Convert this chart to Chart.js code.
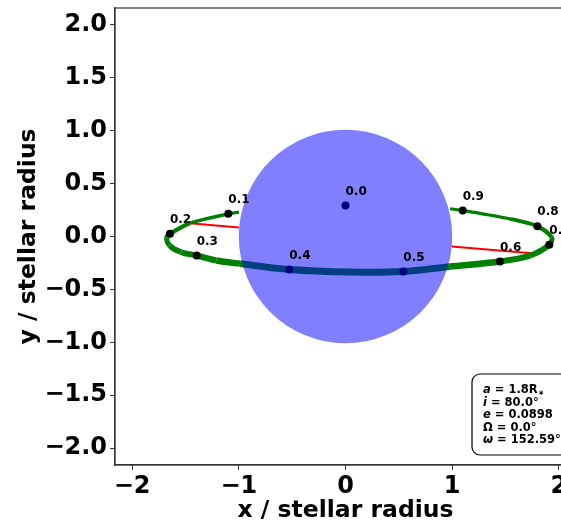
<!DOCTYPE html>
<html>
<head>
<meta charset="utf-8">
<script src="https://cdn.jsdelivr.net/npm/chart.js@4.4.1/dist/chart.umd.min.js"></script>
<style>
  html, body { margin: 0; padding: 0; overflow: hidden; background: #fff; }
  #wrap { width: 561px; height: 524px; overflow: hidden; }
</style>
</head>
<body>
<div id="wrap"><canvas id="orbitChart" width="600" height="524"></canvas></div>
<script>
// star (stellar radius units)
const starX = [0];
const starY = [0];
const starR = [1];

// orbit outline (visible part, star covers the back)
const orbitX = [0.979, 1.098, 1.542, 1.798, 1.932, 1.910, 1.729, 1.448, 0.979, 0.542, 0.042, -0.527, -0.989, -1.212, -1.395, -1.540, -1.648, -1.676, -1.645, -1.457, -1.098, -0.998];
const orbitY = [0.262, 0.246, 0.167, 0.097, -0.007, -0.078, -0.180, -0.236, -0.284, -0.331, -0.336, -0.312, -0.257, -0.227, -0.180, -0.148, -0.085, -0.007, 0.026, 0.126, 0.214, 0.230];

// planet positions at phases
const phaseLabels = ['0.0', '0.1', '0.2', '0.3', '0.4', '0.5', '0.6', '0.7', '0.8', '0.9'];
const phaseX = [0.000, -1.098, -1.645, -1.395, -0.527, 0.542, 1.448, 1.910, 1.798, 1.098];
const phaseY = [0.293, 0.214, 0.026, -0.180, -0.312, -0.331, -0.236, -0.078, 0.097, 0.246];

// red line (hidden behind the star in the middle)
const nodeX = [-1.457, -0.998, null, 0.995, 1.745];
const nodeY = [0.126, 0.085, null, -0.095, -0.158];

// axes
const axisMin = -2.16, axisMax = 2.16;
const xTicks = [-2, -1, 0, 1, 2];
const xTickLabels = ['\u22122', '\u22121', '0', '1', '2'];
const yTicks = [-2, -1.5, -1, -0.5, 0, 0.5, 1, 1.5, 2];
const yTickLabels = ['\u22122.0', '\u22121.5', '\u22121.0', '\u22120.5', '0.0', '0.5', '1.0', '1.5', '2.0'];

// parameter box
const paramLines = [
  ['a', ' = 1.8R', '\u2217'],
  ['i', ' = 80.0\u00b0', ''],
  ['e', ' = 0.0898', ''],
  ['', '\u03a9 = 0.0\u00b0', ''],
  ['\u03c9', ' = 152.59\u00b0', '']
];

const FONT = "'DejaVu Sans', sans-serif";

const pts = (xs, ys) => xs.map((x, i) => ({x: x, y: ys[i]}));

const overlay = {
  id: 'overlay',
  afterDatasetsDraw(chart) {
    const c = chart.ctx, sx = chart.scales.x, sy = chart.scales.y;
    c.save();
    c.font = 'bold 12px ' + FONT;
    c.fillStyle = '#000';
    c.textAlign = 'left';
    c.textBaseline = 'middle';
    phaseLabels.forEach((t, i) => {
      c.fillText(t, sx.getPixelForValue(phaseX[i]), sy.getPixelForValue(phaseY[i]) - 14);
    });
    c.restore();
  },
  afterDraw(chart) {
    const c = chart.ctx, a = chart.chartArea;
    c.save();
    c.strokeStyle = '#333';
    c.lineWidth = 1.2;
    c.strokeRect(a.left, a.top, a.right - a.left, a.bottom - a.top);

    // parameter box
    c.beginPath();
    c.roundRect(472, 374, 130, 81, 8);
    c.fillStyle = '#fff';
    c.fill();
    c.strokeStyle = '#000';
    c.lineWidth = 1.2;
    c.stroke();

    c.fillStyle = '#000';
    c.textBaseline = 'middle';
    let y = 390.5;
    paramLines.forEach(l => {
      let x = 483;
      if (l[0]) {
        c.font = 'italic bold 11.5px ' + FONT;
        c.fillText(l[0], x, y);
        x += c.measureText(l[0]).width;
      }
      c.font = 'bold 11.5px ' + FONT;
      c.fillText(l[1], x, y);
      x += c.measureText(l[1]).width;
      if (l[2]) {
        c.font = 'bold 7px ' + FONT;
        c.fillText(l[2], x + 0.5, y + 3);
      }
      y += 12.4;
    });
    c.restore();
  }
};

const ctx = document.getElementById('orbitChart');

new Chart(ctx, {
  type: 'scatter',
  data: {
    datasets: [
      {
        label: 'star',
        data: pts(starX, starY),
        order: 0,
        pointStyle: 'circle',
        pointRadius: c => {
          const s = c.chart.scales.x;
          return Math.abs(s.getPixelForValue(starR[0]) - s.getPixelForValue(0));
        },
        pointBackgroundColor: 'rgba(0,0,255,0.5)',
        pointBorderWidth: 0,
        pointBorderColor: 'rgba(0,0,0,0)'
      },
      {
        label: 'phases',
        data: pts(phaseX, phaseY),
        order: 1,
        pointRadius: 4,
        pointBackgroundColor: '#000',
        pointBorderWidth: 0
      },
      {
        label: 'orbit',
        data: pts(orbitX, orbitY),
        order: 2,
        showLine: true,
        pointRadius: 0,
        tension: 0.3,
        borderColor: '#008000',
        borderWidth: 4,
        borderCapStyle: 'butt',
        borderJoinStyle: 'round',
        segment: {
          borderWidth: c => {
            const m = (c.p0.parsed.y + c.p1.parsed.y) / 2;
            return Math.max(2.6, Math.min(7, 3 + (0.25 - m) / 0.58 * 4));
          }
        }
      },
      {
        label: 'nodes',
        data: pts(nodeX, nodeY),
        order: 3,
        showLine: true,
        spanGaps: false,
        pointRadius: 0,
        borderColor: '#ff0000',
        borderWidth: 2
      }
    ]
  },
  options: {
    responsive: false,
    animation: false,
    events: [],
    layout: { padding: { top: 8, right: 24, left: 0, bottom: 0 } },
    plugins: { legend: { display: false }, tooltip: { enabled: false } },
    scales: {
      x: {
        type: 'linear',
        min: axisMin,
        max: axisMax,
        afterBuildTicks: s => { s.ticks = xTicks.map(v => ({value: v})); },
        afterFit: s => { s.height = 59; s.paddingLeft = 0; s.paddingRight = 0; },
        grid: { drawOnChartArea: false, drawTicks: true, tickLength: 5, color: '#333' },
        border: { display: true, color: '#333', width: 1.2 },
        ticks: {
          color: '#000',
          padding: 2,
          maxRotation: 0,
          font: { family: FONT, size: 24, weight: 'bold' },
          callback: (v, i) => xTickLabels[i]
        },
        title: {
          display: true,
          text: 'x / stellar radius',
          color: '#000',
          padding: { top: 0, bottom: 0 },
          font: { family: FONT, size: 23.5, weight: 'bold', lineHeight: 1.15 }
        }
      },
      y: {
        type: 'linear',
        min: axisMin,
        max: axisMax,
        afterBuildTicks: s => { s.ticks = yTicks.map(v => ({value: v})); },
        afterFit: s => { s.width = 115; s.paddingTop = 0; s.paddingBottom = 0; },
        grid: { drawOnChartArea: false, drawTicks: true, tickLength: 5, color: '#333' },
        border: { display: true, color: '#333', width: 1.2 },
        ticks: {
          color: '#000',
          padding: 3,
          font: { family: FONT, size: 24, weight: 'bold' },
          callback: (v, i) => yTickLabels[i]
        },
        title: {
          display: true,
          text: 'y / stellar radius',
          color: '#000',
          padding: { top: 15, bottom: 0 },
          font: { family: FONT, size: 23.5, weight: 'bold', lineHeight: 1.15 }
        }
      }
    }
  },
  plugins: [overlay]
});
</script>
</body>
</html>
